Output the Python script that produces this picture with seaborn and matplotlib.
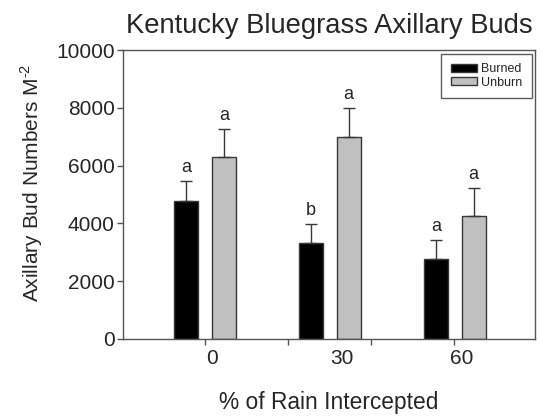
import matplotlib
matplotlib.use("Agg")
import matplotlib.pyplot as plt
import seaborn as sns
import pandas as pd
import numpy as np

# ---- data ----
rain = ["0", "30", "60"]
treatments = ["Burned", "Unburn"]
burned = [4775, 3310, 2770]
unburn = [6310, 7000, 4245]
burned_err = [690, 670, 670]
unburn_err = [970, 1000, 980]
burned_letters = ["a", "b", "a"]
unburn_letters = ["a", "a", "a"]
tick_labels = ["0", "30", "60"]

sns.set_style("white")
plt.rcParams["font.family"] = ["Liberation Sans", "DejaVu Sans"]
plt.rcParams["mathtext.fontset"] = "custom"
plt.rcParams["mathtext.rm"] = "Liberation Sans"

df = pd.DataFrame({
    "rain": rain * 2,
    "treatment": [treatments[0]] * 3 + [treatments[1]] * 3,
    "value": burned + unburn,
})

fig = plt.figure(figsize=(5.41, 4.17), dpi=100)
ax = fig.add_axes([123 / 541, 1 - 339 / 417, 412 / 541, 289 / 417])

sns.barplot(data=df, x="rain", y="value", hue="treatment", order=rain,
            hue_order=treatments, palette=["black", "#c0c0c0"],
            width=0.6, gap=0.37, edgecolor="#383838", linewidth=1.0,
            errorbar=None, ax=ax)

# error bars and letters from bar geometry
for cont, errs, letters in zip(ax.containers, [burned_err, unburn_err],
                               [burned_letters, unburn_letters]):
    for patch, e, letter in zip(cont.patches, errs, letters):
        xc = patch.get_x() + patch.get_width() / 2
        h = patch.get_height()
        ax.errorbar([xc], [h], yerr=[[0], [e]], fmt="none", ecolor="#383838",
                    elinewidth=1.0, capsize=4, capthick=1.0, zorder=3)
        ax.annotate(letter, (xc, h + e), xytext=(0, 3.5), textcoords="offset points",
                    ha="center", va="bottom", fontsize=13)

ax.set_ylim(0, 10000)
ax.set_xlim(-0.656, 2.64)
ax.set_yticks([0, 2000, 4000, 6000, 8000, 10000])
ax.tick_params(axis="y", direction="out", length=4, width=1, color="#555555",
               labelsize=15, pad=2, left=True)

# x tick labels (major, no marks) and tick marks (minor)
ax.set_xticks([0.056, 1.096, 2.056])
ax.set_xticklabels(tick_labels)
ax.set_xticks([0, 0.664, 1.328, 1.992], minor=True)
ax.tick_params(axis="x", which="major", length=0, labelsize=15, pad=7)
ax.tick_params(axis="x", which="minor", direction="out", length=4, width=1,
               color="#555555", bottom=True)

for s in ax.spines.values():
    s.set_visible(True)
    s.set_color("#555555")
    s.set_linewidth(1.0)

ax.set_ylabel(r"Axillary Bud Numbers M$^{\text{-2}}$", fontsize=15)
ax.yaxis.set_label_coords(-0.19, 0.54)
ax.set_xlabel("% of Rain Intercepted", fontsize=16.4, labelpad=17)

leg = ax.legend(loc="upper right", bbox_to_anchor=(0.993, 0.986), fontsize=9,
                frameon=True, fancybox=False, edgecolor="#333333",
                handlelength=2.1, handleheight=0.6, handletextpad=0.35,
                borderpad=0.75, labelspacing=0.1, borderaxespad=0, title=None)
leg.get_frame().set_linewidth(1.0)
ax.set_title("Kentucky Bluegrass Axillary Buds", fontsize=19.7, pad=12)

fig.savefig("out.png", dpi=100)
